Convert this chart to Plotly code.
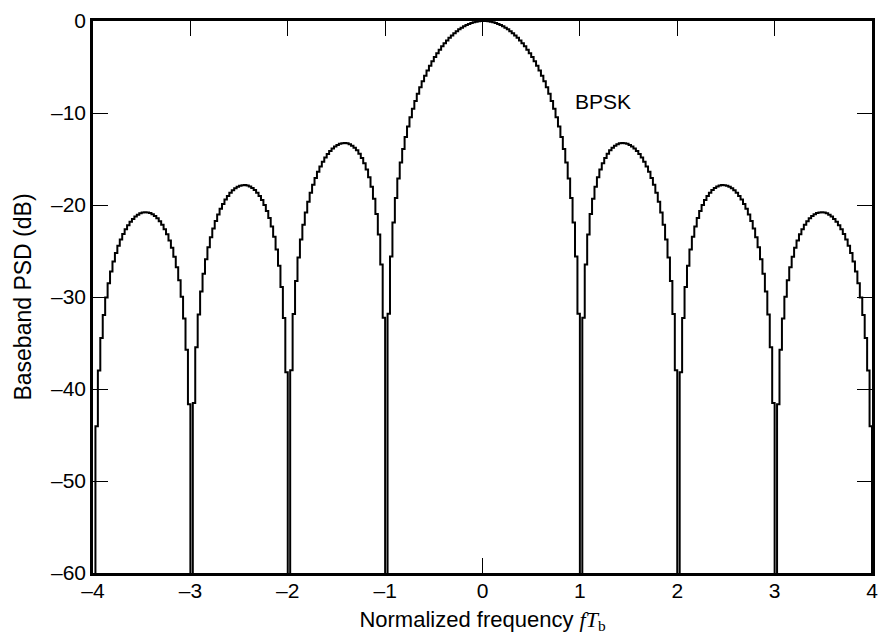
import plotly.graph_objects as go

# Sampling grid of the read-off curve (normalized frequency fT_b)
freq_step = 0.025

# Baseband PSD (dB) for fT_b = 0, 0.025, ..., 4.0
# (curve is symmetric about 0; nulls drop below the -60 dB floor)
psd_half_db = [
    0.0,
    -0.01, -0.04, -0.08, -0.14, -0.22, -0.32, -0.44, -0.58, -0.74, -0.91,
    -1.11, -1.33, -1.57, -1.83, -2.11, -2.42, -2.75, -3.12, -3.50, -3.92,
    -4.37, -4.86, -5.38, -5.94, -6.55, -7.20, -7.91, -8.69, -9.53, -10.45,
    -11.48, -12.62, -13.91, -15.39, -17.13, -19.23, -21.90, -25.61, -31.83,
    -70.0,
    -32.26, -26.48, -23.21, -20.97, -19.31, -18.02, -16.98, -16.14, -15.46, -14.89,
    -14.43, -14.06, -13.77, -13.55, -13.40, -13.30, -13.26, -13.28, -13.35, -13.47,
    -13.64, -13.86, -14.13, -14.46, -14.85, -15.30, -15.81, -16.39, -17.06, -17.81,
    -18.68, -19.66, -20.81, -22.15, -23.75, -25.72, -28.27, -31.86, -37.96,
    -70.0,
    -38.18, -32.29, -28.92, -26.59, -24.83, -23.45, -22.33, -21.41, -20.64, -20.00,
    -19.46, -19.02, -18.66, -18.37, -18.14, -17.98, -17.88, -17.83, -17.84, -17.90,
    -18.02, -18.18, -18.40, -18.68, -19.01, -19.41, -19.88, -20.41, -21.03, -21.74,
    -22.56, -23.50, -24.60, -25.90, -27.46, -29.39, -31.90, -35.45, -41.52,
    -70.0,
    -41.66, -35.74, -32.34, -29.97, -28.18, -26.77, -25.62, -24.66, -23.86, -23.19,
    -22.63, -22.15, -21.76, -21.45, -21.20, -21.01, -20.88, -20.81, -20.79, -20.82,
    -20.91, -21.06, -21.25, -21.51, -21.82, -22.19, -22.63, -23.15, -23.74, -24.43,
    -25.23, -26.15, -27.23, -28.51, -30.05, -31.96, -34.46, -37.99, -44.04,
    -70.0,
]

x_ticks = [-4, -3, -2, -1, 0, 1, 2, 3, 4]
y_ticks = [0, -10, -20, -30, -40, -50, -60]
curve_label = "BPSK"
x_title = ("Normalized frequency "
           "<span style=\"font-family:'Liberation Serif', 'DejaVu Serif', serif\">"
           "<i>fT</i><sub>b</sub></span>")
y_title = "Baseband PSD (dB)"

n_half = len(psd_half_db)
freq_pos = [round(i * freq_step, 4) for i in range(n_half)]
freq = [-f for f in freq_pos[::-1]] + freq_pos[1:]
psd = psd_half_db[::-1] + psd_half_db[1:]

FONT = "Liberation Sans, Arial, Helvetica, sans-serif"

fig = go.Figure()
fig.add_trace(go.Scatter(
    x=freq, y=psd, mode="lines",
    line=dict(color="black", width=2, shape="hv"),
    showlegend=False, hoverinfo="skip",
))

fig.add_annotation(
    x=0.93, y=-8.8, text=curve_label, showarrow=False,
    xanchor="left", yanchor="middle",
    font=dict(family=FONT, size=21, color="black"),
)

axis_common = dict(
    showline=True, linecolor="black", linewidth=2.5, mirror="allticks",
    ticks="inside", ticklen=15, tickwidth=1, tickcolor="black",
    showgrid=False, zeroline=False, automargin=False,
    tickfont=dict(family=FONT, size=21, color="black"),
)


def dash(v):
    return f"{v:d}".replace("-", "\u2013")


fig.update_xaxes(
    range=[-4, 4], tickvals=x_ticks, ticktext=[dash(v) for v in x_ticks],
    ticklabelstandoff=-3,
    title=dict(text=x_title, font=dict(family=FONT, size=22, color="black"), standoff=11),
    **axis_common,
)
fig.update_yaxes(
    range=[-60, 0], tickvals=y_ticks, ticktext=[dash(v) for v in y_ticks],
    title=dict(text=y_title, font=dict(family=FONT, size=23, color="black"), standoff=13),
    **axis_common,
)

# the page body adds an 8px offset, so the figure is 8px smaller on each side
fig.update_layout(
    width=880, height=627,
    margin=dict(l=85, r=16, t=13, b=62),
    paper_bgcolor="white", plot_bgcolor="white",
    font=dict(family=FONT, size=21, color="black"),
)

fig.write_html("out.html")
